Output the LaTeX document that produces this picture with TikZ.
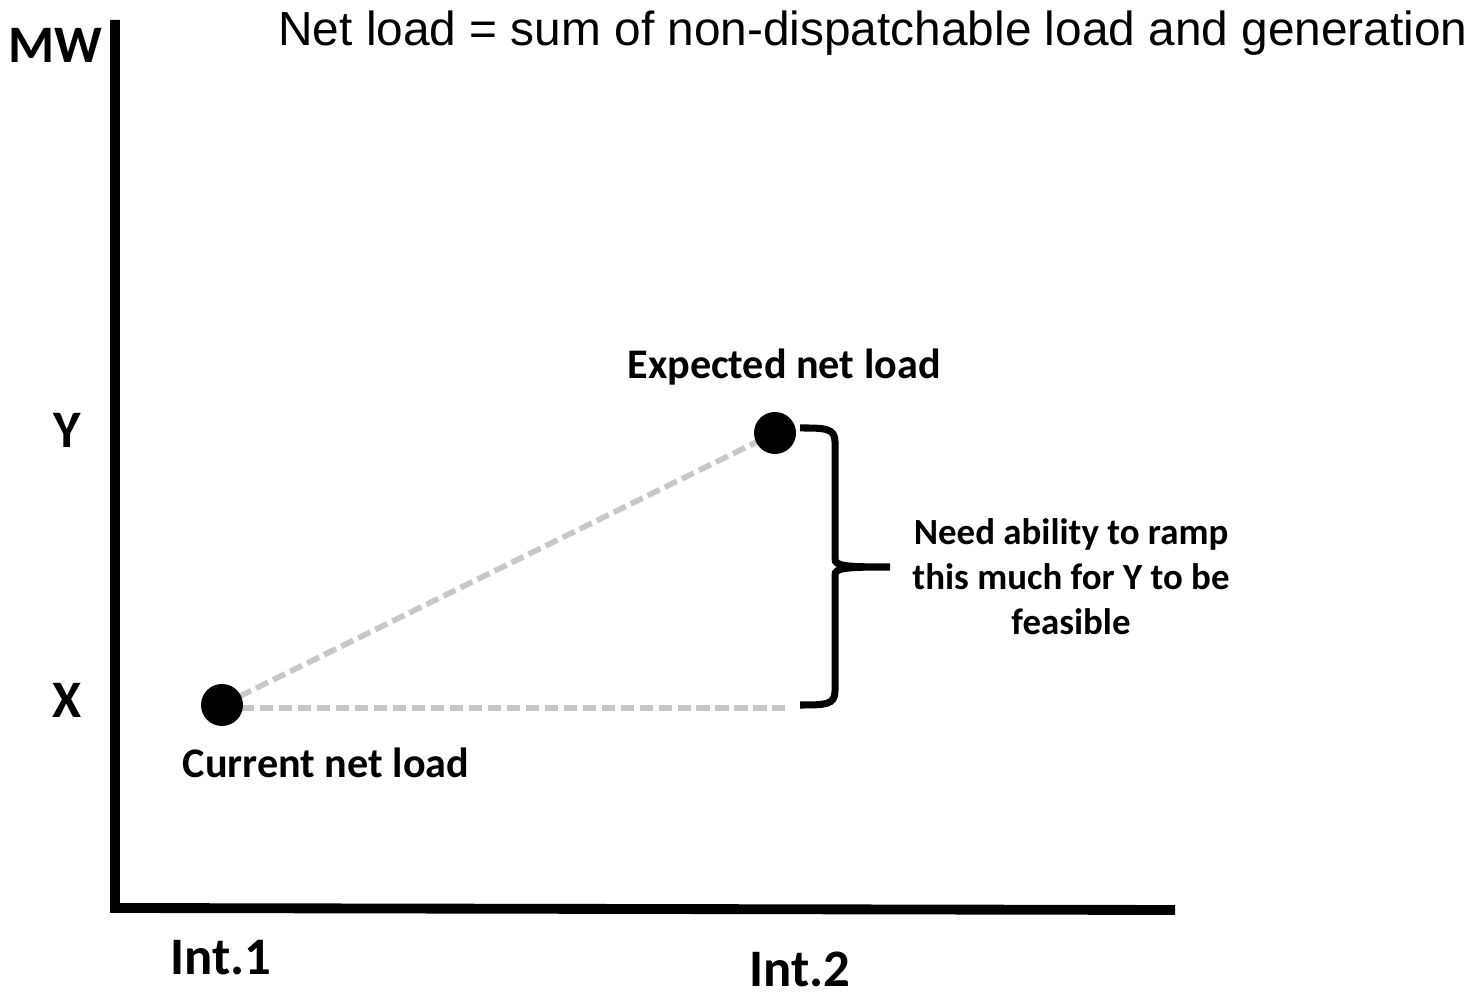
\documentclass[tikz,border=0pt]{standalone}
\usepackage{fontspec}
\setmainfont{Carlito}
\newfontfamily\titlefont{Liberation Sans}
\usetikzlibrary{positioning}

\begin{document}
\begin{tikzpicture}[
  ax/.style={font=\fontsize{15}{18}\selectfont\bfseries,inner sep=0pt},
  lbl/.style={font=\fontsize{12}{14}\selectfont\bfseries,inner sep=0pt},
  dot/.style={circle,fill=black,minimum size=0.42cm,inner sep=0pt},
  dsh/.style={draw=black!22,line width=1.6pt,dash pattern=on 3.8pt off 1.6pt}]
\useasboundingbox (0,0) rectangle (14.79,9.97);
% axes
\draw[line width=2.8pt] (1.15,9.77) -- (1.15,0.89) -- (11.75,0.87);
\node[ax] (mw) at (0.55,9.52) {MW};
\node[ax] (yv) at (0.67,5.67) {Y};
\node[ax] (xv) at (0.67,2.97) {X};
\node[ax] (int1) at (2.21,0.39) {Int.1};
\node[ax] (int2) at (8.00,0.28) {Int.2};
\node[font=\titlefont\fontsize{13.6}{16}\selectfont,inner sep=0pt] (ttl) at (8.73,9.64)
  {Net load = sum of non-dispatchable load and generation};
% points
\coordinate (cur) at (2.22,2.92);
\coordinate (exp) at (7.75,5.64);
\coordinate (hend) at (7.85,2.89);
\draw[dsh] (cur) -- (exp);
\draw[dsh] (cur |- hend) -- (hend);
\node[dot] (curdot) at (cur) {};
\node[dot] (expdot) at (exp) {};
\node[lbl] (curlbl) at (3.26,2.34) {Current net load};
\node[lbl] (explbl) at (7.84,6.30) {Expected net load};
% brace
\draw[line width=2pt] (8.00,5.69) .. controls (8.25,5.69) and (8.35,5.69) .. (8.35,5.55)
  -- (8.35,4.38) .. controls (8.35,4.31) and (8.45,4.30) .. (8.90,4.30)
  (8.90,4.30) .. controls (8.45,4.30) and (8.35,4.29) .. (8.35,4.22)
  -- (8.35,3.06) .. controls (8.35,2.92) and (8.25,2.92) .. (8.00,2.92);
\node[lbl,font=\fontsize{10.5}{12.8}\selectfont\bfseries,align=center] (ramp) at (10.71,4.20)
  {Need ability to ramp\\ this much for Y to be\\ feasible};
\end{tikzpicture}
\end{document}
